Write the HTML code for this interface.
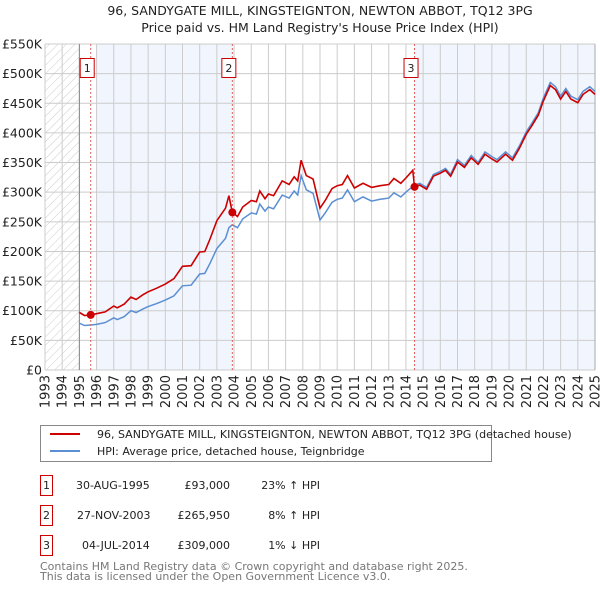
<!DOCTYPE html>
<html><head><meta charset="utf-8"><style>
body{margin:0;background:#fff;font-family:"DejaVu Sans","Liberation Sans",sans-serif;}
svg text{font-family:"DejaVu Sans","Liberation Sans",sans-serif;}
</style></head><body>
<svg id="chart" width="600" height="590" xmlns="http://www.w3.org/2000/svg">
<defs><pattern id="hatch" width="6" height="6" patternUnits="userSpaceOnUse" patternTransform="rotate(45)"><line x1="0" y1="0" x2="0" y2="6" stroke="#ccc" stroke-width="1"/></pattern></defs>
<text x="320" y="15" text-anchor="middle" font-size="12.5" fill="#222">96, SANDYGATE MILL, KINGSTEIGNTON, NEWTON ABBOT, TQ12 3PG</text>
<text x="320" y="32" text-anchor="middle" font-size="12.5" fill="#222">Price paid vs. HM Land Registry's House Price Index (HPI)</text>
<g id="plot"></g>
<g>
<rect x="40.5" y="425.5" width="451" height="36" fill="#fff" stroke="#888"/>
<line x1="50" y1="434" x2="80" y2="434" stroke="#cc0000" stroke-width="2"/>
<text x="97" y="438" font-size="11" fill="#222">96, SANDYGATE MILL, KINGSTEIGNTON, NEWTON ABBOT, TQ12 3PG (detached house)</text>
<line x1="50" y1="451" x2="80" y2="451" stroke="#5b8fd4" stroke-width="2"/>
<text x="97" y="455" font-size="11" fill="#222">HPI: Average price, detached house, Teignbridge</text>
</g>
<g font-size="11" fill="#222">
<rect x="40.5" y="475.5" width="12" height="20" fill="none" stroke="#cc0000"/><text x="46.5" y="489" text-anchor="middle">1</text>
<text x="76" y="489">30-AUG-1995</text><text x="230" y="489" text-anchor="end">£93,000</text><text x="320" y="489" text-anchor="end">23% ↑ HPI</text>
<rect x="40.5" y="505.5" width="12" height="20" fill="none" stroke="#cc0000"/><text x="46.5" y="519" text-anchor="middle">2</text>
<text x="77" y="519">27-NOV-2003</text><text x="230" y="519" text-anchor="end">£265,950</text><text x="320" y="519" text-anchor="end">8% ↑ HPI</text>
<rect x="40.5" y="535.5" width="12" height="20" fill="none" stroke="#cc0000"/><text x="46.5" y="549" text-anchor="middle">3</text>
<text x="82" y="549">04-JUL-2014</text><text x="230" y="549" text-anchor="end">£309,000</text><text x="320" y="549" text-anchor="end">1% ↓ HPI</text>
</g>
<text x="40" y="570" font-size="11" fill="#777">Contains HM Land Registry data © Crown copyright and database right 2025.</text>
<text x="40" y="580" font-size="11" fill="#777">This data is licensed under the Open Government Licence v3.0.</text>
</svg>
<script>
const years=[1995.0,1995.3,1995.66,1996.0,1996.5,1997.0,1997.2,1997.6,1998.0,1998.3,1998.7,1999.0,1999.5,2000.0,2000.5,2001.0,2001.5,2002.0,2002.3,2002.6,2003.0,2003.5,2003.7,2003.9,2004.2,2004.5,2005.0,2005.3,2005.5,2005.8,2006.0,2006.3,2006.8,2007.2,2007.5,2007.7,2007.9,2008.2,2008.6,2009.0,2009.3,2009.7,2010.0,2010.3,2010.6,2011.0,2011.5,2012.0,2012.5,2013.0,2013.3,2013.7,2014.0,2014.4,2014.5,2014.8,2015.2,2015.6,2016.0,2016.3,2016.6,2017.0,2017.4,2017.8,2018.2,2018.6,2019.0,2019.3,2019.8,2020.2,2020.6,2021.0,2021.3,2021.7,2022.0,2022.4,2022.7,2023.0,2023.3,2023.6,2024.0,2024.3,2024.7,2025.0];
const hpi=[79,75,76,77,80,88,85,90,100,97,103,107,112,118,125,142,143,162,163,180,205,222,240,245,240,255,265,263,280,268,275,272,295,290,302,295,328,304,298,253,265,283,288,290,304,284,292,285,288,290,299,292,300,310,312,315,308,330,335,340,330,355,345,362,350,368,360,355,368,358,378,402,415,434,459,485,478,462,475,462,456,470,478,470];
const price=[97,92,93,95,98,108,105,111,123,119,127,132,138,145,154,175,176,199,200,221,252,273,294,266,259,275,286,284,302,289,297,294,319,313,326,319,354,328,322,273,286,306,311,313,328,307,315,308,311,313,323,315,324,337,309,312,305,327,332,337,327,351,342,358,347,364,356,351,364,354,374,398,411,430,454,480,473,457,470,457,451,465,473,465];
const saleYears=[1995.66,2003.9,2014.5];
const salePrices=[93,265.95,309];
const saleLabels=["1","2","3"];
const yTicks=[0,50,100,150,200,250,300,350,400,450,500,550];
const yTickLabels=["£0","£50K","£100K","£150K","£200K","£250K","£300K","£350K","£400K","£450K","£500K","£550K"];
const xTicks=[1993,1994,1995,1996,1997,1998,1999,2000,2001,2002,2003,2004,2005,2006,2007,2008,2009,2010,2011,2012,2013,2014,2015,2016,2017,2018,2019,2020,2021,2022,2023,2024,2025];

const X0=45,X1=595,Y0=370,Y1=44;
const xs=y=>X0+(y-1993)/(2025-1993)*(X1-X0);
const ys=v=>Y0-v/550*(Y0-Y1);
const NS="http://www.w3.org/2000/svg";
const g=document.getElementById('plot');
function mk(t,a){const e=document.createElementNS(NS,t);for(const k in a)e.setAttribute(k,a[k]);g.appendChild(e);return e;}
let e;
e=mk('rect',{x:xs(1993),y:Y1,width:xs(1995)-xs(1993),height:Y0-Y1,fill:'url(#hatch)'});


e=mk('rect',{x:xs(1996),y:Y1,width:xs(saleYears[1])-xs(1996),height:Y0-Y1,fill:'#f1f5fd'});


e=mk('rect',{x:xs(saleYears[2]),y:Y1,width:X1-xs(saleYears[2]),height:Y0-Y1,fill:'#f1f5fd'});


yTicks.forEach((t,i)=>{
 e=mk('line',{x1:X0,x2:X1,y1:ys(t),y2:ys(t),stroke:'#ccc','stroke-width':1});
 
 
 e=mk('text',{x:42,y:ys(t)+4.5,'text-anchor':'end','font-size':12.5,fill:'#222'});e.textContent=yTickLabels[i];
 
 
});
xTicks.forEach(t=>{
 e=mk('line',{x1:xs(t),x2:xs(t),y1:Y1,y2:Y0,stroke:'#ccc','stroke-width':1});
 
 
 e=mk('text',{x:0,y:0,'text-anchor':'end','font-size':13,fill:'#222',transform:`translate(${xs(t)+4.5},375) rotate(-90)`});e.textContent=t;
 
 
});
e=mk('line',{x1:xs(1995),x2:xs(1995),y1:Y1,y2:Y0,stroke:'#888','stroke-width':1});


e=mk('line',{x1:X1,x2:X1,y1:Y1,y2:Y0,stroke:'#aaa','stroke-width':1});


e=mk('path',{d:years.map((y,i)=>(i?'L':'M')+xs(y).toFixed(1)+','+ys(hpi[i]).toFixed(1)).join(''),fill:'none',stroke:'#5b8fd4','stroke-width':1.5});


e=mk('path',{d:years.map((y,i)=>(i?'L':'M')+xs(y).toFixed(1)+','+ys(price[i]).toFixed(1)).join(''),fill:'none',stroke:'#cc0000','stroke-width':1.6});


saleYears.forEach((sy,i)=>{
 const x=xs(sy);
 e=mk('line',{x1:x,x2:x,y1:Y1,y2:Y0,stroke:'#e06060','stroke-width':1,'stroke-dasharray':'2,2'});
 
 
 e=mk('rect',{x:x-10.5,y:58.5,width:14,height:19,fill:'#fff',stroke:'#cc0000'});
 
 
 e=mk('text',{x:x-3.5,y:72,'text-anchor':'middle','font-size':11,fill:'#222'});e.textContent=saleLabels[i];
 
 
 e=mk('circle',{cx:x,cy:ys(salePrices[i]),r:4,fill:'#cc0000'});
 
 
});
</script>
</body></html>
